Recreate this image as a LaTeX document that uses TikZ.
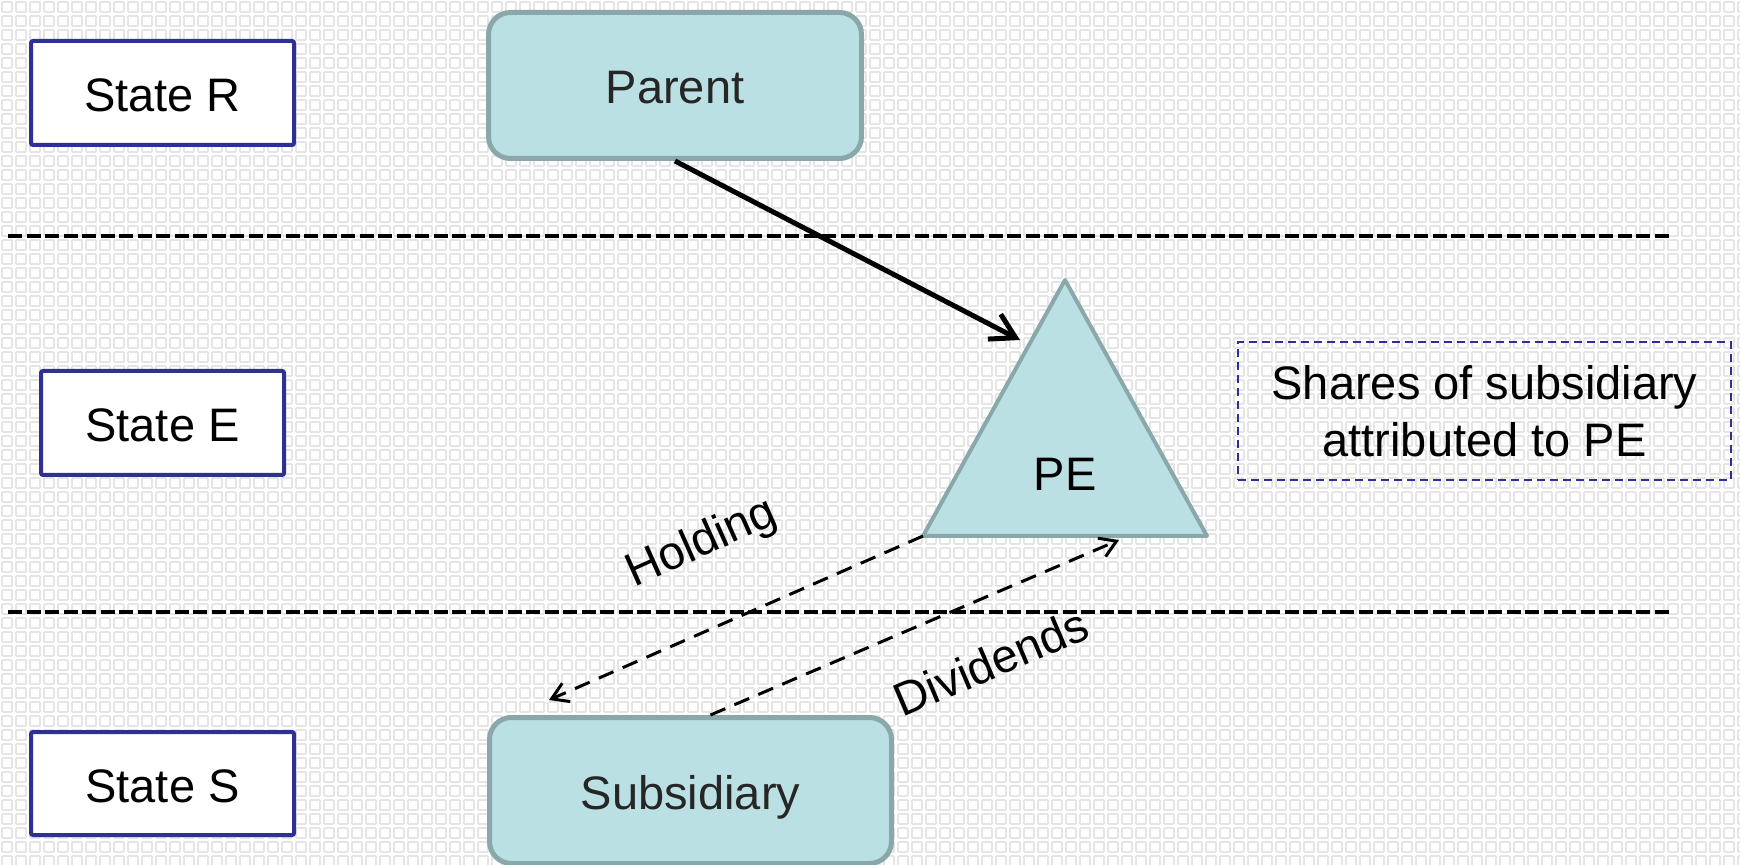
\documentclass[tikz,border=0pt]{standalone}
\usepackage{fontspec}
\setmainfont{Liberation Sans}
\usetikzlibrary{arrows.meta,positioning}
\usepackage{xcolor}

\definecolor{stateblue}{RGB}{46,49,146}
\definecolor{entityfill}{RGB}{187,224,227}
\definecolor{entityline}{RGB}{138,168,170}
\definecolor{entitytext}{RGB}{38,38,38}

\begin{document}
\begin{tikzpicture}[x=0.5pt, y=-0.5pt]
            \tikzstyle{country} = [draw=stateblue, line width=2pt, fill=white, rounded corners=1pt, minimum width=131.5pt, minimum height=52pt, text height=23pt, text depth=4.5pt, font=\fontsize{23.5}{28.5}\selectfont]
            \tikzstyle{entity} = [draw=entityline, fill=entityfill, line width=2.5pt, rounded corners=11pt, text=entitytext, minimum height=73pt, text height=23pt, text depth=4.5pt, font=\fontsize{23.5}{28.5}\selectfont]
            \tikzstyle{divider} = [line width=2.25pt, dash pattern=on 7pt off 2.25pt]
            \tikzstyle{flow} = [-{Straight Barb[length=8pt,width=10pt]}, line width=1.5pt, dash pattern=on 8pt off 5pt]
            \tikzstyle{flowtext} = [inner sep=0pt, font=\fontsize{23.5}{28.5}\selectfont]
            \tikzstyle{tile} = [draw=black!10, line width=0.75pt, dash pattern=on 5pt off 2pt]

            \useasboundingbox (0,0) rectangle (1740,865);
            \fill[white] (0,0) rectangle (1740,865);

            % background squares
            \foreach \i in {0,...,61} {
                \draw[tile] (2,{2+14*\i}) -- (1740,{2+14*\i});
                \draw[tile] (2,{12+14*\i}) -- (1740,{12+14*\i});
            }
            \foreach \i in {0,...,124} {
                \draw[tile] ({2+14*\i},2) -- ({2+14*\i},865);
                \draw[tile] ({12+14*\i},2) -- ({12+14*\i},865);
            }

            \draw[divider] (8,236) -- (1672,236);
            \draw[divider] (8,612) -- (1672,612);

            \node[country] (stateR) at (162.5,93) {State R};
            \node[country, minimum width=121.5pt] (stateE) at (162.5,423) {State E};
            \node[country, minimum height=51.5pt] (stateS) at (162.5,783.5) {State S};

            \node[entity, minimum width=186.5pt] (parent) at (675,85.5) {Parent};
            \node[entity, minimum width=201pt] (sub) at (690.5,790.5) {Subsidiary};

            \coordinate (peTop) at (1065,280);
            \coordinate (peL) at (923,536);
            \coordinate (peR) at (1207,536);
            \draw[draw=entityline, fill=entityfill, line width=2pt, line join=round] (peTop) -- (peL) -- (peR) -- cycle;
            \node[text height=23pt, text depth=4.5pt, font=\fontsize{23.5}{28.5}\selectfont] (pe) at (1065,472) {PE};

            \node[draw=stateblue, line width=1pt, dash pattern=on 4pt off 2.5pt, minimum width=246.5pt, minimum height=69pt, align=center, font=\fontsize{23.5}{28.5}\selectfont] (shares) at (1484.5,411) {Shares of subsidiary\\attributed to PE};

            \coordinate (peIn) at (1020,340);
            \coordinate (holdEnd) at (549,700);
            \coordinate (peDiv) at (1119,540);
            \draw[-{Straight Barb[length=12pt,width=14pt]}, line width=2.5pt] (parent.south) -- (peIn);
            \draw[flow] (peL) -- (holdEnd);
            \draw[flow] ([xshift=10pt]sub.north) -- (peDiv);

            \node[flowtext, rotate=24] (holding) at (702,544) {Holding};
            \node[flowtext, rotate=23] (dividends) at (991,662) {Dividends};
        \end{tikzpicture}
\end{document}
